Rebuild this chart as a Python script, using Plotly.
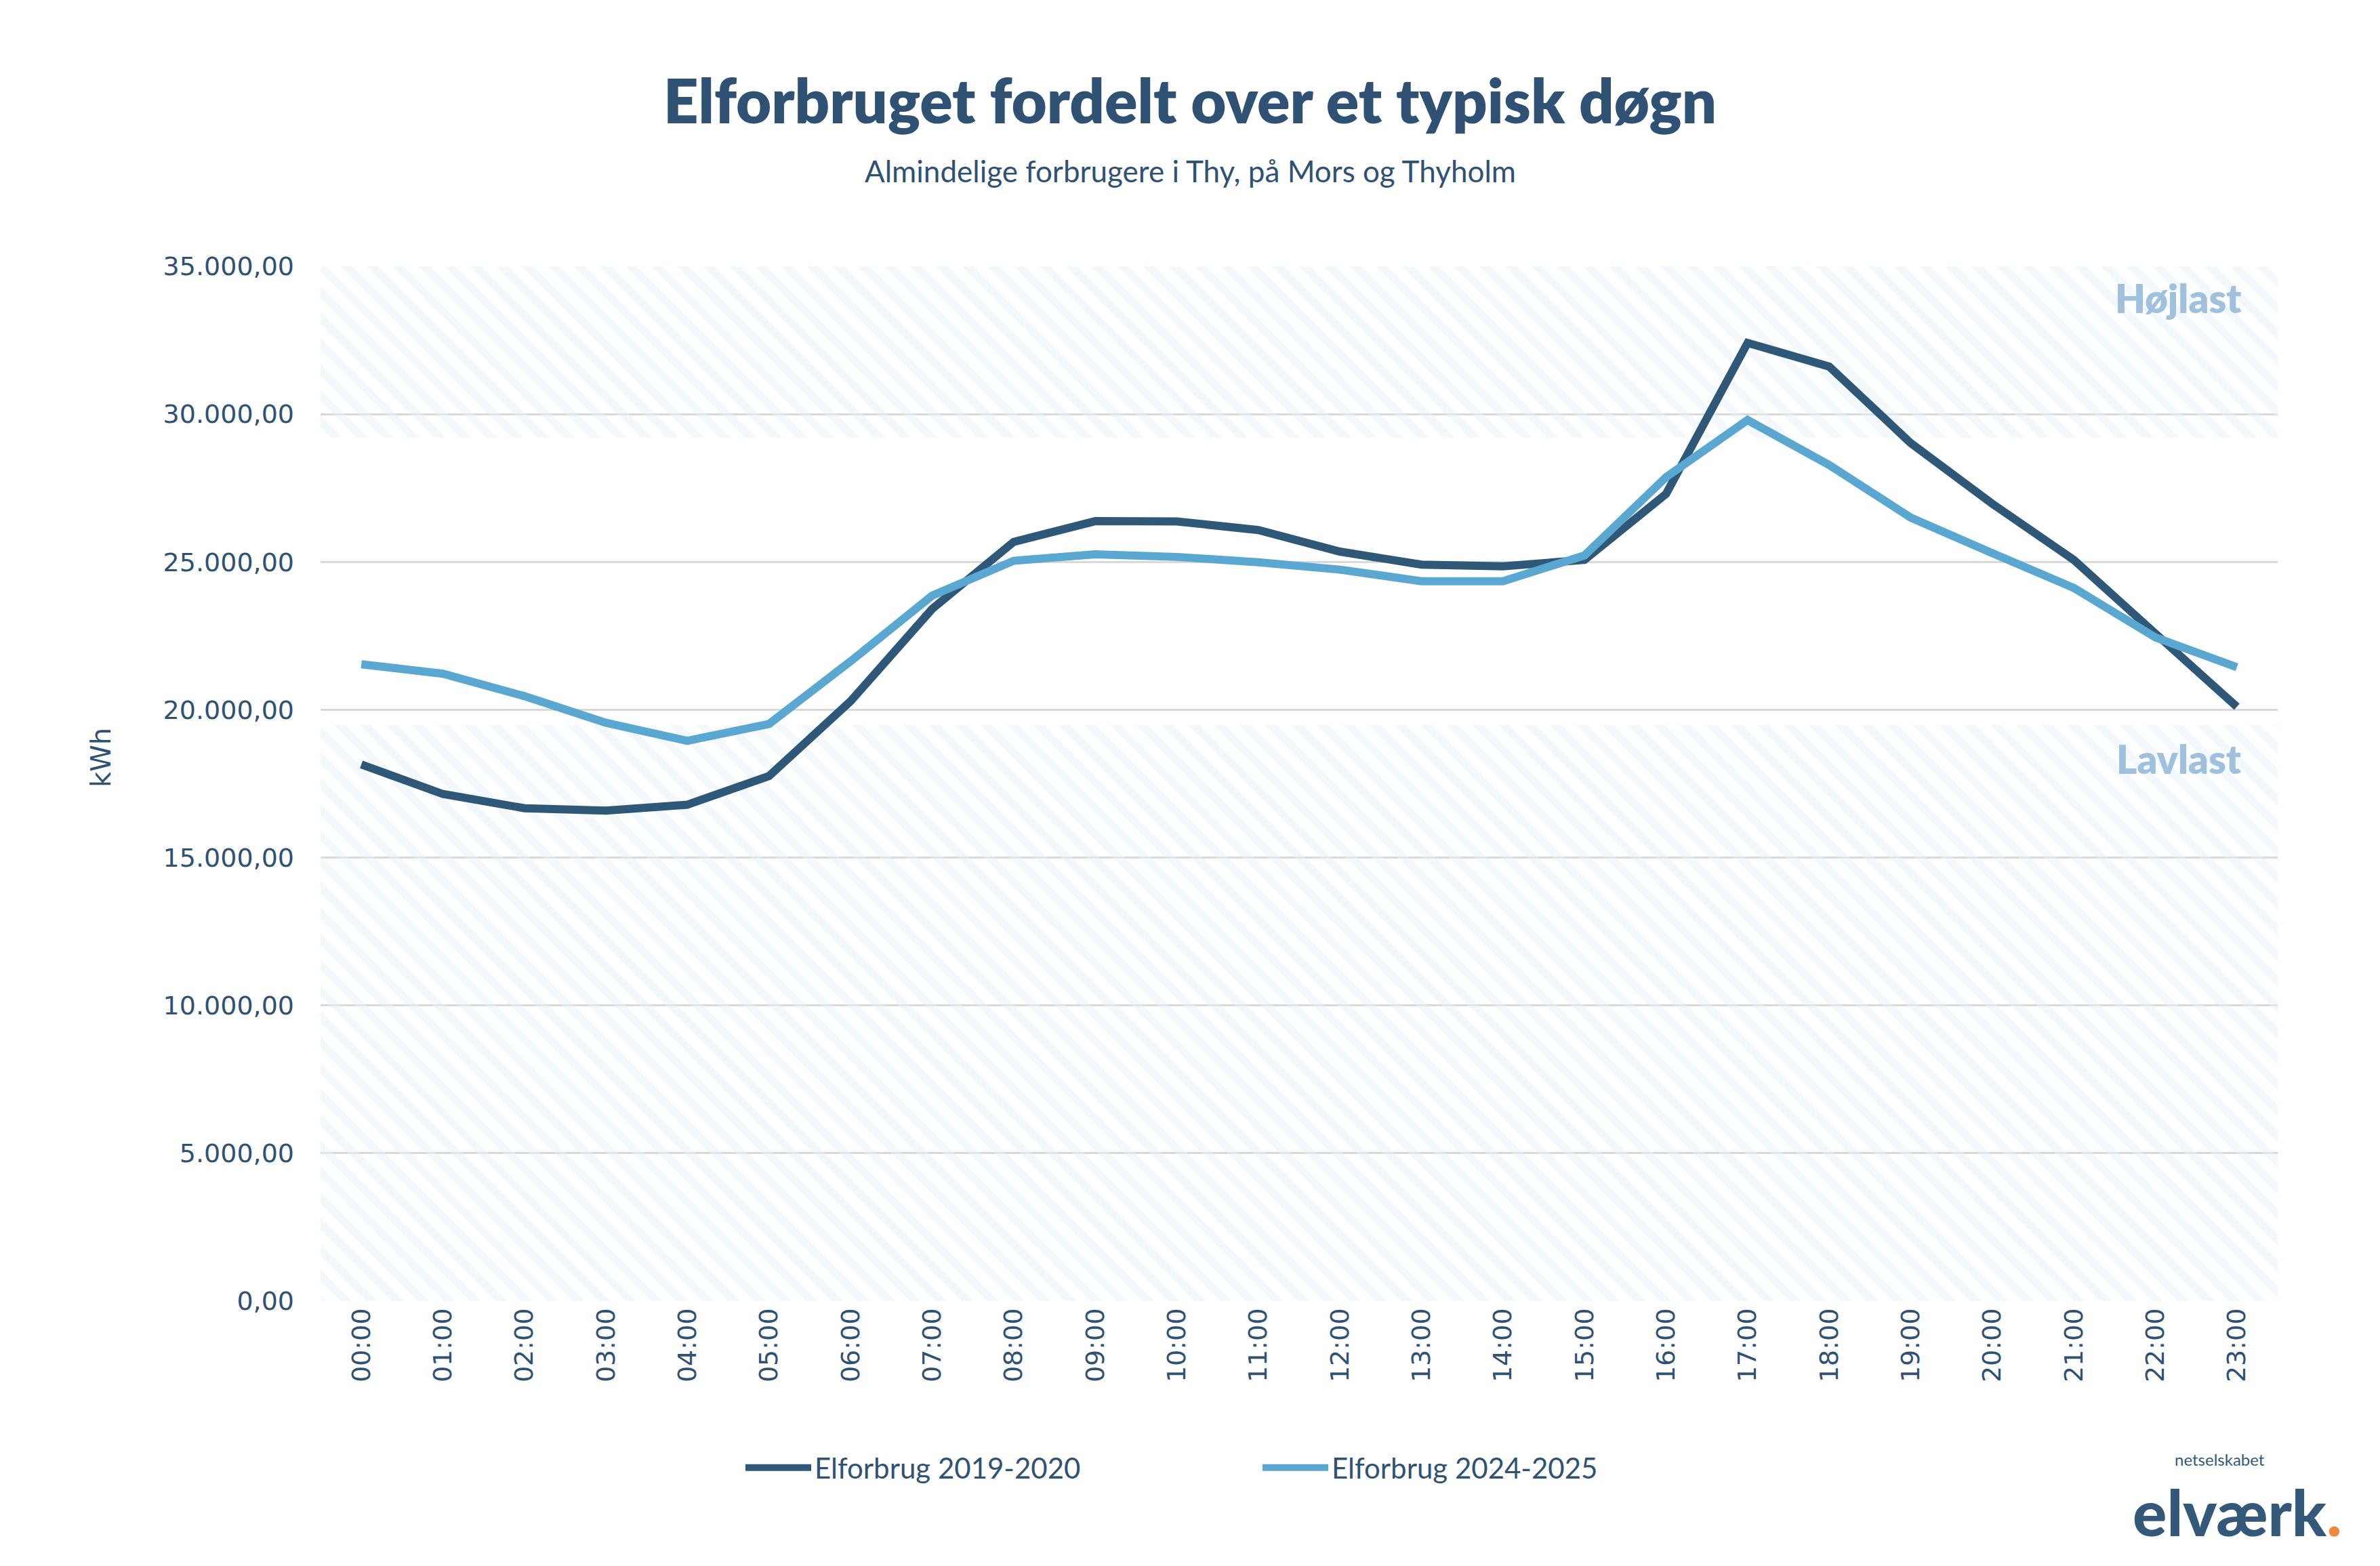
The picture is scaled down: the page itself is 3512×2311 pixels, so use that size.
import plotly.graph_objects as go

hours = [f"{h:02d}:00" for h in range(24)]
forbrug_2019_2020 = [18150, 17150, 16670, 16590, 16790, 17760, 20290, 23410, 25680, 26380, 26370, 26080,
                     25350, 24910, 24850, 25070, 27300, 32410, 31610, 29020, 26970, 25070, 22580, 20100]
forbrug_2024_2025 = [21540, 21220, 20460, 19560, 18950, 19520, 21640, 23860, 25040, 25260, 25170, 24990,
                     24740, 24350, 24350, 25220, 27870, 29800, 28280, 26500, 25300, 24120, 22450, 21440]
hojlast_band = [29200, 35000]
lavlast_band = [0, 19480]
y_ticks = [0, 5000, 10000, 15000, 20000, 25000, 30000, 35000]

NAVY = "#2f5173"
DARK = "#2f5878"
LIGHT = "#5aa8d1"
BAND_TXT = "#a0c1dd"

OFF = 8  # default page body margin
W, H = 3512 - 2 * OFF, 2311 - 2 * OFF
L = 473 - OFF
R = W - (3361 - OFF)
T = 393 - OFF
B = H - (1920 - OFF)

fig = go.Figure()

for band in (hojlast_band, lavlast_band):
    fig.add_trace(go.Scatter(
        x=[0, 1, 1, 0, 0], y=[band[0], band[0], band[1], band[1], band[0]],
        xaxis="x", yaxis="y", mode="lines", line=dict(width=0), fill="toself",
        fillcolor="rgba(0,0,0,0)",
        fillpattern=dict(shape="\\", size=27, solidity=0.45, fgcolor="#e8f1f9",
                         bgcolor="rgba(255,255,255,0)"),
        hoverinfo="skip", showlegend=False))

fig.add_trace(go.Scatter(x=hours, y=forbrug_2019_2020, xaxis="x2", yaxis="y", mode="lines",
                         name="Elforbrug 2019-2020", line=dict(color=DARK, width=12)))
fig.add_trace(go.Scatter(x=hours, y=forbrug_2024_2025, xaxis="x2", yaxis="y", mode="lines",
                         name="Elforbrug 2024-2025", line=dict(color=LIGHT, width=12)))

pw = W - L - R
ph = H - T - B
def px_x(x):
    return (x - OFF - L) / pw
def px_y(y):
    return (H - B - (y - OFF)) / ph

fig.update_layout(
    width=W, height=H,
    margin=dict(l=L, r=R, t=T, b=B, autoexpand=False),
    paper_bgcolor="white", plot_bgcolor="white",
    separators=",.",
    font=dict(family="DejaVu Sans", color=NAVY),
    title=dict(text="Elforbruget fordelt over et typisk døgn", x=0.5, xref="container", xanchor="center",
               y=1 - (150 - OFF) / H, yref="container", yanchor="middle",
               font=dict(family="Lato", size=90, weight=800, color=NAVY)),
    xaxis=dict(range=[0, 1], visible=False, fixedrange=True),
    xaxis2=dict(type="category", overlaying="x", anchor="y", side="bottom", range=[-0.5, 23.5],
                showgrid=False, zeroline=False, showline=False, ticks="", tickangle=-90,
                ticklabelstandoff=2, tickfont=dict(family="DejaVu Sans", size=38, color=NAVY)),
    yaxis=dict(range=[0, 35000], tickvals=y_ticks, tickformat=",.2f", showgrid=True, gridcolor="#d9d9d9",
               gridwidth=3, zeroline=True, zerolinecolor="rgba(0,0,0,0)", showline=False, ticks="",
               ticklabelstandoff=38, tickfont=dict(family="DejaVu Sans", size=38, color=NAVY)),
    legend=dict(orientation="h", xref="container", yref="container", x=(1095 - OFF) / W,
                y=1 - (2166 - OFF) / H, xanchor="left", yanchor="middle", itemwidth=97,
                entrywidthmode="pixels", entrywidth=651,
                font=dict(family="Lato", size=42, color=NAVY), bgcolor="rgba(0,0,0,0)"),
    annotations=[
        dict(text="Almindelige forbrugere i Thy, på Mors og Thyholm", xref="paper", yref="paper",
             x=px_x(1756), y=px_y(252), xanchor="center", yanchor="middle", showarrow=False,
             font=dict(family="Lato", size=44, color=NAVY)),
        dict(text="kWh", xref="paper", yref="paper", x=px_x(149), y=px_y(1118), xanchor="center",
             yanchor="middle", textangle=-90, showarrow=False,
             font=dict(family="DejaVu Sans", size=40, color=NAVY)),
        dict(text="Højlast", xref="paper", yref="paper", x=px_x(3310), y=px_y(440), xanchor="right",
             yanchor="middle", showarrow=False, font=dict(family="Lato", size=58, weight=800, color=BAND_TXT)),
        dict(text="Lavlast", xref="paper", yref="paper", x=px_x(3310), y=px_y(1119), xanchor="right",
             yanchor="middle", showarrow=False, font=dict(family="Lato", size=58, weight=800, color=BAND_TXT)),
        dict(text='elværk<span style="color:#f0883a">.</span>', xref="paper", yref="paper",
             x=px_x(3458), y=px_y(2230), xanchor="right", yanchor="middle", showarrow=False,
             font=dict(family="Lato", size=94, weight=900, color="#34587a")),
        dict(text="netselskabet", xref="paper", yref="paper", x=px_x(3344), y=px_y(2153),
             xanchor="right", yanchor="middle", showarrow=False,
             font=dict(family="Lato", size=24, color="#34587a")),
    ],
)

fig.write_html("out.html")
